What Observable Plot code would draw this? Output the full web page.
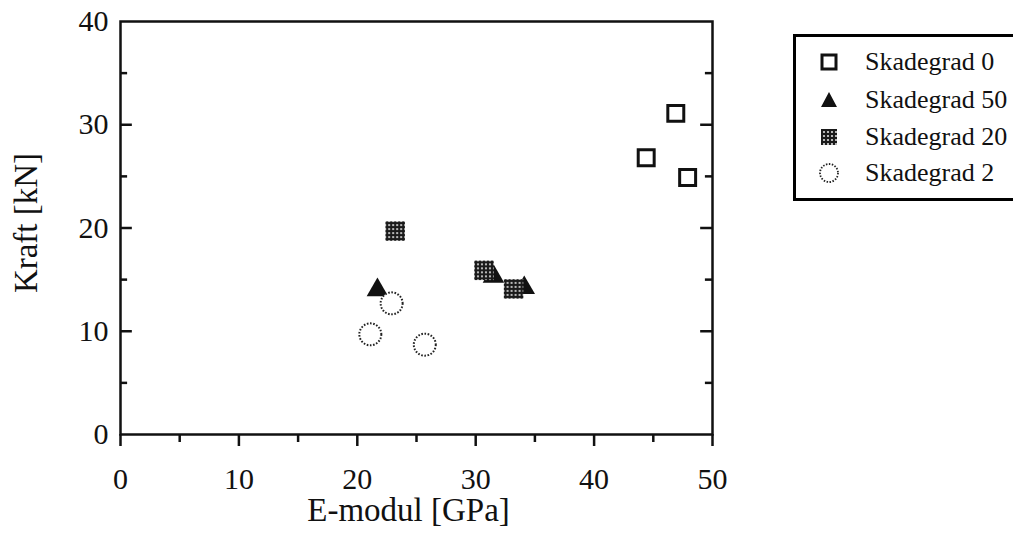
<!DOCTYPE html>
<html>
<head>
<meta charset="utf-8">
<script src="https://cdn.jsdelivr.net/npm/d3@7"></script>
<script src="https://cdn.jsdelivr.net/npm/@observablehq/plot@0.6"></script>
<style>
  html, body { margin: 0; padding: 0; background: #fff; overflow: hidden; }
  #wrap { position: relative; width: 1013px; height: 533px; }
  #legend {
    position: absolute; left: 793px; top: 34px; width: 240px; height: 161px;
    border: 3px solid #000; background: #fff;
    font-family: "Liberation Serif", "Times New Roman", serif; font-size: 26px; color: #111;
  }
  .row { position: absolute; left: 0; height: 34px; display: flex; align-items: center; }
  .row svg { margin-left: 22px; margin-right: 25px; }
</style>
</head>
<body>
<div id="wrap"><div id="chart"></div><div id="legend"></div></div>
<script>
// ---- data ----
const seriesNames = ["Skadegrad 0", "Skadegrad 50", "Skadegrad 20", "Skadegrad 2"];
const skade0X  = [44.4, 46.9, 47.9];
const skade0Y  = [26.8, 31.1, 24.9];
const skade50X = [21.7, 31.5, 34.1];
const skade50Y = [14.0, 15.3, 14.2];
const skade20X = [23.2, 30.7, 33.2];
const skade20Y = [19.7, 15.9, 14.1];
const skade2X  = [21.1, 22.9, 25.7];
const skade2Y  = [9.7, 12.7, 8.7];
const xTicks = [0, 10, 20, 30, 40, 50];
const xMinor = [5, 15, 25, 35, 45];
const yTicks = [0, 10, 20, 30, 40];
const yMajorInner = [10, 20, 30];
const yMinor = [5, 15, 25, 35];

const toRows = (xs, ys) => xs.map((x, i) => ({x, y: ys[i]}));
const s0 = toRows(skade0X, skade0Y);
const s50 = toRows(skade50X, skade50Y);
const s20 = toRows(skade20X, skade20Y);
const s2 = toRows(skade2X, skade2Y);

const font = "Liberation Serif, Times New Roman, serif";

const chart = Plot.plot({
  width: 1013,
  height: 533,
  marginLeft: 120,
  marginRight: 301,
  marginTop: 21,
  marginBottom: 99,
  style: {fontFamily: font, color: "#111", background: "#fff"},
  x: {domain: [0, 50]},
  y: {domain: [0, 40]},
  marks: [
    Plot.axisX({ticks: xTicks, tickSize: 12, tickPadding: 21, fontSize: 30, strokeWidth: 2.5, label: null}),
    Plot.axisX({ticks: xMinor, tickSize: 8, text: null, strokeWidth: 2.5, label: null}),
    Plot.axisY({ticks: yTicks, tickSize: 0, tickPadding: 12, fontSize: 30, label: null}),
    Plot.ruleY(yMajorInner, {x1: 0, x2: 1.0, strokeWidth: 2.5}),
    Plot.ruleY(yMinor, {x1: 0, x2: 0.6, strokeWidth: 2.5}),
    Plot.ruleY(yMajorInner, {x1: 50, x2: 49.0, strokeWidth: 2.5}),
    Plot.ruleY(yMinor, {x1: 50, x2: 49.4, strokeWidth: 2.5}),
    Plot.frame({stroke: "#111", strokeWidth: 2.5}),
    Plot.text(["E-modul [GPa]"], {frameAnchor: "bottom", textAnchor: "middle", lineAnchor: "middle", dx: -8, dy: 76, fontSize: 33, fill: "#111"}),
    Plot.text(["Kraft [kN]"], {frameAnchor: "left", textAnchor: "middle", lineAnchor: "middle", dx: -94, dy: -5, rotate: -90, fontSize: 33, fill: "#111"}),
    Plot.dot(s50, {x: "x", y: "y", symbol: "triangle", r: 8, fill: "#111", stroke: "none"}),
    Plot.dot(s20, {x: "x", y: "y", symbol: "square", r: 11, fill: "url(#dots)", stroke: "none"}),
    Plot.dot(s2, {x: "x", y: "y", symbol: "circle", r: 11, fill: "#fff", stroke: "#222", strokeWidth: 2, strokeDasharray: "1.6,1.6"}),
    Plot.dot(s0, {x: "x", y: "y", symbol: "square", r: 9, fill: "none", stroke: "#111", strokeWidth: 3})
  ]
});

// dotted pattern used by the "Skadegrad 20" squares
const ns = "http://www.w3.org/2000/svg";
const defs = document.createElementNS(ns, "defs");
defs.innerHTML = '<pattern id="dots" width="4" height="4" patternUnits="userSpaceOnUse">' +
  '<rect width="4" height="4" fill="#1a1a1a"/><circle cx="2" cy="2" r="1.1" fill="#ddd"/></pattern>';
chart.insertBefore(defs, chart.firstChild);
document.getElementById("chart").appendChild(chart);

// legend
const legendSymbols = [
  '<rect x="4" y="4" width="14" height="14" fill="none" stroke="#111" stroke-width="3"/>',
  '<path d="M11,3 L19,18 L3,18 Z" fill="#111"/>',
  '<rect x="3" y="3" width="16" height="16" fill="url(#dots)"/>',
  '<circle cx="11" cy="11" r="9" fill="#fff" stroke="#222" stroke-width="1.8" stroke-dasharray="1.5,1.5"/>'
];
const legend = document.getElementById("legend");
const rowTops = [8, 46, 83, 119];
seriesNames.forEach((name, i) => {
  const row = document.createElement("div");
  row.className = "row";
  row.style.top = rowTops[i] + "px";
  row.innerHTML = `<svg width="22" height="22" viewBox="0 0 22 22">${legendSymbols[i]}</svg><span>${name}</span>`;
  legend.appendChild(row);
});
</script>
</body>
</html>
